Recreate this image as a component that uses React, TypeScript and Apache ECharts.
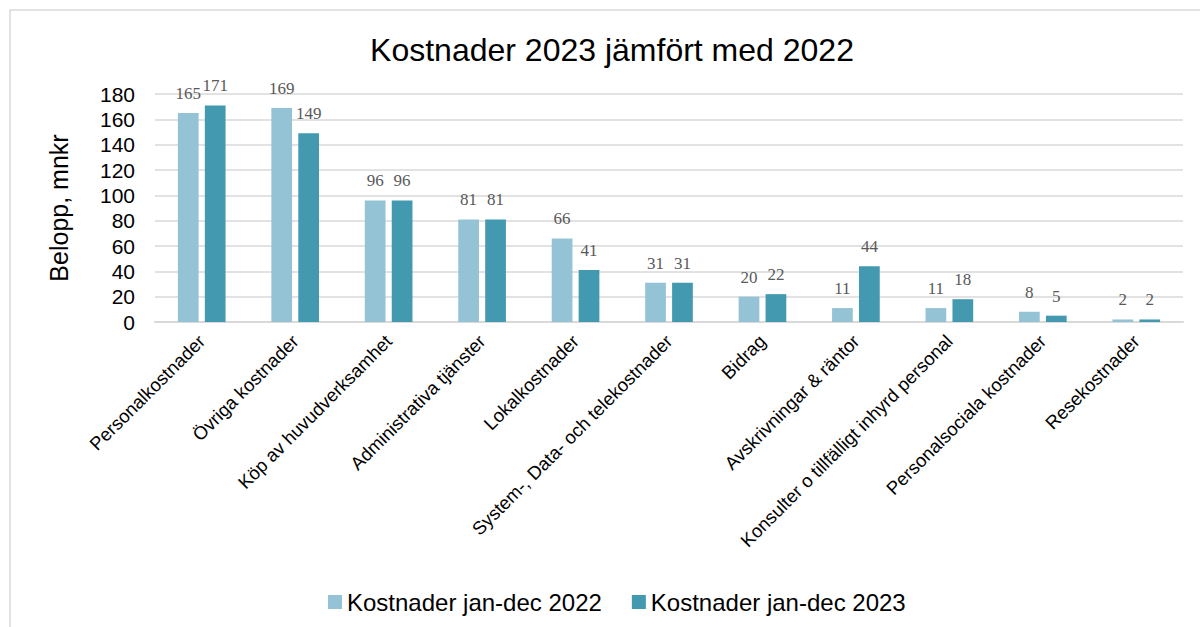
import React, { useEffect, useRef } from "react";
import * as echarts from "echarts";

const categories = [
  "Personalkostnader",
  "Övriga kostnader",
  "Köp av huvudverksamhet",
  "Administrativa tjänster",
  "Lokalkostnader",
  "System-, Data- och telekostnader",
  "Bidrag",
  "Avskrivningar & räntor",
  "Konsulter o tillfälligt inhyrd personal",
  "Personalsociala kostnader",
  "Resekostnader",
];
const values2022 = [165, 169, 96, 81, 66, 31, 20, 11, 11, 8, 2];
const values2023 = [171, 149, 96, 81, 41, 31, 22, 44, 18, 5, 2];
const seriesNames = ["Kostnader jan-dec 2022", "Kostnader jan-dec 2023"];

export default function App() {
  const ref = useRef<HTMLDivElement>(null);
  useEffect(() => {
    if (!ref.current) return;
    const chart = echarts.init(ref.current, undefined, { renderer: "svg" });
    const labelStyle = {
      show: true,
      position: "top" as const,
      distance: 11,
      fontFamily: "Liberation Serif",
      fontSize: 17,
      color: "#595959",
    };
    chart.setOption({
      animation: false,
      backgroundColor: "#fff",
      graphic: [
        {
          type: "rect",
          shape: { x: 10, y: 10, width: 1300, height: 800 },
          style: { fill: "none", stroke: "#d9d9d9", lineWidth: 1.5 },
          silent: true,
        },
      ],
      title: {
        text: "Kostnader 2023 jämfört med 2022",
        left: 607,
        textAlign: "center",
        top: 29,
        textStyle: {
          fontFamily: "Liberation Sans",
          fontSize: 32,
          fontWeight: "normal",
          color: "#000",
        },
      },
      legend: {
        bottom: 8,
        left: 323,
        itemWidth: 14,
        itemHeight: 14,
        itemGap: 30,
        itemStyle: { borderWidth: 0 },
        icon: "rect",
        textStyle: { fontFamily: "Liberation Sans", fontSize: 24, color: "#000" },
        data: seriesNames,
      },
      grid: { left: 155, right: 17, top: 94, bottom: 305, containLabel: false },
      xAxis: {
        type: "category",
        data: categories,
        axisLine: { lineStyle: { color: "#d9d9d9", width: 2 } },
        axisTick: { show: false },
        axisLabel: {
          rotate: 45,
          interval: 0,
          margin: 16,
          fontFamily: "Liberation Sans",
          fontSize: 18.5,
          color: "#000",
        },
      },
      yAxis: {
        type: "value",
        min: 0,
        max: 180,
        interval: 20,
        name: "Belopp, mnkr",
        nameLocation: "middle",
        nameGap: 84,
        nameTextStyle: { fontFamily: "Liberation Sans", fontSize: 25, color: "#000" },
        axisLine: { show: false },
        axisTick: { show: false },
        axisLabel: {
          margin: 20,
          fontFamily: "Liberation Sans",
          fontSize: 21,
          color: "#000",
        },
        splitLine: { lineStyle: { color: "#d9d9d9", width: 1.5 } },
      },
      series: [
        {
          name: seriesNames[0],
          type: "bar",
          data: values2022,
          itemStyle: { color: "#93C3D4" },
          barGap: "30%",
          barCategoryGap: "49%",
          label: labelStyle,
        },
        {
          name: seriesNames[1],
          type: "bar",
          data: values2023,
          itemStyle: { color: "#4299B0" },
          barGap: "30%",
          barCategoryGap: "49%",
          label: labelStyle,
        },
      ],
    });
    return () => chart.dispose();
  }, []);
  return (
    <div
      ref={ref}
      style={{ position: "fixed", left: 0, top: 0, width: 1200, height: 627 }}
    />
  );
}
